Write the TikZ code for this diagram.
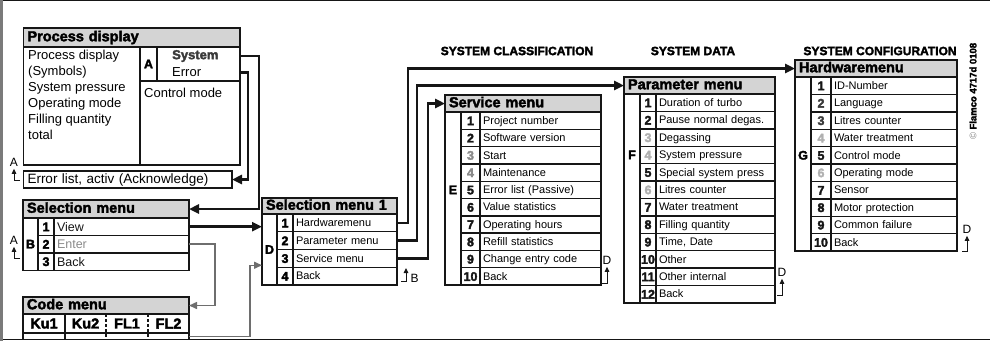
\documentclass[tikz,border=0pt]{standalone}
\usepackage{fontspec}
\setmainfont{Liberation Sans}
\newfontfamily\heavyfam{Liberation Sans Bold}[FakeBold=2.5]
\usetikzlibrary{arrows.meta}

\definecolor{lc}{HTML}{161616}
\definecolor{hdrfill}{HTML}{D4D4D4}
\definecolor{dimnum}{HTML}{B0B0B0}
\definecolor{midnum}{HTML}{8A8A8A}
\definecolor{darknum}{HTML}{3A3A3A}
\definecolor{gline}{HTML}{6E6E6E}
\definecolor{framegray}{HTML}{7A7A7A}

\newcommand\mRow{\fontsize{11}{13}\selectfont}
\newcommand\mSel{\fontsize{12.5}{14}\selectfont}
\newcommand\mBody{\fontsize{13}{16}\selectfont}
\newcommand\mHead{\heavyfam\fontsize{14.5}{16}\selectfont}
\newcommand\mNum{\heavyfam\fontsize{12.5}{14}\selectfont}
\newcommand\mSec{\heavyfam\fontsize{12}{14}\selectfont}
\newcommand\mMark{\fontsize{12}{13}\selectfont}

\begin{document}
\begin{tikzpicture}[x=1pt,y=-1pt,
  box/.style={draw=lc, line width=1.4pt, rectangle, inner sep=0pt, outer sep=0pt, anchor=north west},
  hdr/.style={box, fill=hdrfill, font=\mHead, align=left, inner xsep=4pt, text height=10.5pt, text depth=3pt},
  rowcell/.style={box, align=left, inner xsep=3pt, text height=9.5pt, text depth=2pt},
  numcell/.style={box, font=\mNum, text height=9pt, text depth=0pt},
  letter/.style={font=\mNum, inner sep=0pt},
  seclabel/.style={font=\mSec, inner sep=0pt},
  conn/.style={draw=lc, line width=2.6pt, -{Triangle[length=10pt,width=9pt]}},
  gconn/.style={draw=gline, line width=1.5pt, -{Triangle[length=8pt,width=7pt]}},
  mk/.style={draw=lc, line width=1pt, -{Triangle[length=5pt,width=4.5pt]}},
  mklabel/.style={font=\mMark, inner sep=0.5pt},
]
\useasboundingbox (0,0) rectangle (990,341);

% frame
\draw[lc, line width=1pt] (0,0.5) -- (990,0.5);
\draw[lc, line width=1.6pt] (0,339.5) -- (990,339.5);
\draw[framegray, line width=3pt] (1.5,0) -- (1.5,341);

% section titles
\node[seclabel] (secA) at (517,51) {SYSTEM CLASSIFICATION};
\node[seclabel] (secB) at (693,51) {SYSTEM DATA};
\node[seclabel] (secC) at (880,51) {SYSTEM CONFIGURATION};
\node[rotate=90, font=\heavyfam\fontsize{9.5}{10}\selectfont, inner sep=0pt] (copy) at (973,91)
  {{\color{gray}\fontspec{Liberation Sans}©} Flamco 4717d 0108};

% ---------------- Process display ----------------
\node[hdr, text width=208.5pt, minimum height=19pt] (pdh) at (23.5,28) {Process display};
\node[box, minimum width=116.5pt, minimum height=118pt] (pdl) at (23.5,47) {};
\node[anchor=north west, inner sep=0pt, align=left, font=\mBody] (pdtxt) at (28,49.5)
  {Process display\\(Symbols)\\System pressure\\Operating mode\\Filling quantity\\total};
\node[box, minimum width=17pt, minimum height=34pt] (pda) at (140,47) {};
\node[letter] (pdA) at (pda.center) {A};
\node[box, minimum width=83pt, minimum height=34pt] (pds) at (157,47) {};
\node[anchor=west, inner sep=0pt, font=\heavyfam\fontsize{13}{15}\selectfont, text=darknum] (pdsys) at (172,56) {System};
\node[anchor=west, inner sep=0pt, font=\mBody] (pderr) at (172,72.5) {Error};
\node[box, minimum width=100pt, minimum height=84pt] (pdc) at (140,81) {};
\node[anchor=west, inner sep=0pt, font=\mBody] (pdctl) at (144,92.5) {Control mode};

% error list
\node[box, align=left, inner xsep=4pt, text width=200.5pt, minimum height=17pt, font=\fontsize{13.5}{15}\selectfont,
  text height=11pt, text depth=2.5pt] (err) at (23.5,171) {Error list, activ (Acknowledge)};

% ---------------- Selection menu ----------------
\node[hdr, text width=158pt, minimum height=18pt] (selh) at (23,200) {Selection menu};
\node[box, minimum width=15pt, minimum height=52.2pt] (selL) at (23,218) {};
\foreach \t/\c [count=\i] in {View/lc, Enter/midnum, Back/lc} {
  \pgfmathsetmacro\yy{218+17.4*(\i-1)}
  \node[numcell, minimum width=16pt, minimum height=17.4pt] (seln\i) at (38,\yy) {\i};
  \node[rowcell, font=\mSel, text=\c, text width=129pt, minimum height=17.4pt, text height=11pt, text depth=2pt]
    (selt\i) at (54,\yy) {\t};
}
\node[letter] (selB) at (selL.center |- seln2.center) {B};

% ---------------- Code menu ----------------
\node[hdr, text width=158pt, minimum height=17pt] (codeh) at (23,297) {Code menu};
\node[box, minimum width=166pt, minimum height=19pt] (codea) at (23,314) {};
\node[box, minimum width=166pt, minimum height=6.5pt] (codeb) at (23,333) {};
\draw[lc, line width=1.4pt] (65,314) -- (65,339.5);
\draw[lc, line width=1.4pt, dash pattern=on 3pt off 2pt] (106,314) -- (106,339.5);
\draw[lc, line width=1.4pt, dash pattern=on 3pt off 2pt] (148,314) -- (148,339.5);
\node[font=\mHead, inner sep=0pt] (ku1) at (44,323.5) {Ku1};
\node[font=\mHead, inner sep=0pt] (ku2) at (85.5,323.5) {Ku2};
\node[font=\mHead, inner sep=0pt] (fl1) at (127,323.5) {FL1};
\node[font=\mHead, inner sep=0pt] (fl2) at (168.5,323.5) {FL2};

% ---------------- Selection menu 1 ----------------
\node[hdr, text width=127pt, minimum height=16pt] (s1h) at (262,198) {Selection menu 1};
\node[box, minimum width=15pt, minimum height=71pt] (s1L) at (262,214) {};
\foreach \t [count=\i] in {Hardwaremenu, Parameter menu, Service menu, Back} {
  \pgfmathsetmacro\yy{214+17.75*(\i-1)}
  \node[numcell, minimum width=16pt, minimum height=17.75pt] (s1n\i) at (277,\yy) {\i};
  \node[rowcell, font=\mRow, text width=98pt, minimum height=17.75pt] (s1t\i) at (293,\yy) {\t};
}
\node[letter] (s1D) at (s1L.center) {D};

% ---------------- Service menu ----------------
\node[hdr, text width=148pt, minimum height=17pt] (srvh) at (445,95) {Service menu};
\node[box, minimum width=16pt, minimum height=173pt] (srvL) at (445,112) {};
\foreach \t/\c [count=\i] in {Project number/lc, Software version/lc, Start/midnum, Maintenance/midnum,
    Error list (Passive)/lc, Value statistics/lc, Operating hours/lc, Refill statistics/lc,
    Change entry code/lc, Back/lc} {
  \pgfmathsetmacro\yy{112+17.3*(\i-1)}
  \node[numcell, text=\c, minimum width=19pt, minimum height=17.3pt] (srvn\i) at (461,\yy) {\i};
  \node[rowcell, font=\mRow, text width=115pt, minimum height=17.3pt] (srvt\i) at (480,\yy) {\t};
}
\node[letter] (srvE) at (srvL.center |- srvn5.center) {E};

% ---------------- Parameter menu ----------------
\node[hdr, text width=143pt, minimum height=17pt] (parh) at (624,77) {Parameter menu};
\node[box, minimum width=16pt, minimum height=208.8pt] (parL) at (624,94) {};
\foreach \t/\c [count=\i] in {Duration of turbo/lc, Pause normal degas./lc, Degassing/dimnum,
    System pressure/dimnum, Special system press/lc, Litres counter/dimnum, Water treatment/lc,
    Filling quantity/lc, {Time, Date}/lc, Other/lc, Other internal/lc, Back/lc} {
  \pgfmathsetmacro\yy{94+17.4*(\i-1)}
  \node[numcell, text=\c, minimum width=16pt, minimum height=17.4pt] (parn\i) at (640,\yy) {\i};
  \node[rowcell, font=\mRow, text width=113pt, minimum height=17.4pt] (part\i) at (656,\yy) {\t};
}
\node[letter] (parF) at (parL.center |- parn4.center) {F};

% ---------------- Hardwaremenu ----------------
\node[hdr, text width=154pt, minimum height=17pt] (hwh) at (795,60) {Hardwaremenu};
\node[box, minimum width=16pt, minimum height=174pt] (hwL) at (795,77) {};
\foreach \t/\c [count=\i] in {ID-Number/lc, Language/darknum, Litres counter/darknum, Water treatment/dimnum,
    Control mode/lc, Operating mode/dimnum, Sensor/lc, Motor protection/lc, Common failure/lc, Back/lc} {
  \pgfmathsetmacro\yy{77+17.4*(\i-1)}
  \node[numcell, text=\c, minimum width=20pt, minimum height=17.4pt] (hwn\i) at (811,\yy) {\i};
  \node[rowcell, font=\mRow, text width=120pt, minimum height=17.4pt] (hwt\i) at (831,\yy) {\t};
}
\node[letter] (hwG) at (hwL.center |- hwn5.center) {G};

% ---------------- connectors ----------------
\draw[conn] (pds.east |- pdsys) -- ++(19,0) |- (selh.east);
\draw[conn] (pds.east |- pderr) -- ++(8,0) |- (err.east);
\draw[conn] (selt1.east) -- (selt1.east -| s1L.west);
\draw[gconn] (selt2.east) -- ++(26,0) |- (codeh.east);
\draw[gconn] (codeb.east) -- ++(61,0) |- ([yshift=2pt]s1t3.south -| s1L.west);
\draw[conn] (s1t1.east) -- ++(11,0) |- (hwh.west);
\draw[conn] (s1t2.east) -- ++(20,0) |- (parh.west);
\draw[conn] (s1t3.east) -- ++(31,0) |- (srvh.west);

% ---------------- return markers ----------------
\node[mklabel] (mkA1) at (14,162) {A};
\coordinate (mkA1f) at (20,180);
\draw[mk, shorten >=2pt] (mkA1f) -| (mkA1.south);
\node[mklabel] (mkA2) at (14,240) {A};
\coordinate (mkA2f) at (20,258);
\draw[mk, shorten >=2pt] (mkA2f) -| (mkA2.south);

\node[mklabel, anchor=west] (mkB) at (410,278.5) {B};
\coordinate (mkBf) at (401,281);
\draw[mk] (mkBf) -- ++(5,0) -- ++(0,-13);

\node[mklabel] (mkD1) at (607,260) {D};
\coordinate (mkD1f) at (602,283);
\draw[mk, shorten >=2pt] (mkD1f) -| (mkD1.south);
\node[mklabel] (mkD2) at (782,272) {D};
\coordinate (mkD2f) at (777,295);
\draw[mk, shorten >=2pt] (mkD2f) -| (mkD2.south);
\node[mklabel] (mkD3) at (967,229) {D};
\coordinate (mkD3f) at (962,251);
\draw[mk, shorten >=2pt] (mkD3f) -| (mkD3.south);
\end{tikzpicture}
\end{document}
